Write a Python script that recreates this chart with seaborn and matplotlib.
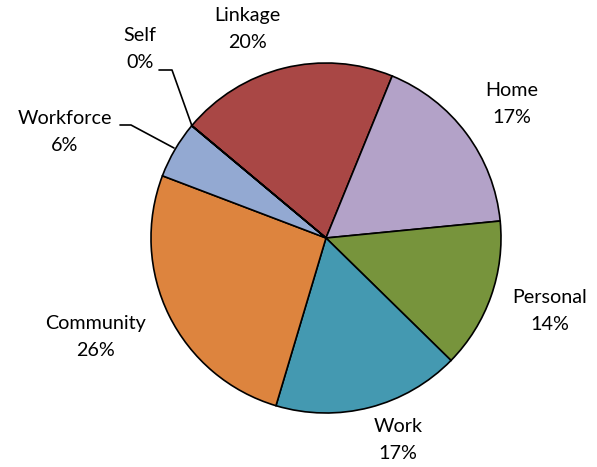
import matplotlib
matplotlib.use("Agg")
import matplotlib.pyplot as plt
import seaborn as sns

categories = ["Linkage", "Home", "Personal", "Work", "Community", "Workforce", "Self"]
values = [20.1, 17.3, 13.9, 17.3, 26.2, 5.3, 0.02]
pct_labels = ["20%", "17%", "14%", "17%", "26%", "6%", "0%"]
colors = ["#A94745", "#B3A2C8", "#77943C", "#4499B1", "#DD843E", "#93A9D2", "#4F81BD"]

sns.set_theme(style="white")
plt.rcParams["font.family"] = ["Lato", "DejaVu Sans"]

W, H, DPI = 597, 467, 100
fig = plt.figure(figsize=(W / DPI, H / DPI), dpi=DPI)
ax = fig.add_axes([0, 0, 1, 1])

cx, cy, R = 326, 238, 175  # pie centre / radius in pixels

ax.pie(values, colors=colors, startangle=140.05, counterclock=False,
       wedgeprops=dict(edgecolor="black", linewidth=1.2), radius=1.0)

ax.set_xlim(-cx / R, (W - cx) / R)
ax.set_ylim((cy - H) / R, cy / R)
ax.axis("off")


def px(x, y):
    return ((x - cx) / R, (cy - y) / R)


label_pos = {
    "Linkage": (247, 29),
    "Home": (512, 104),
    "Personal": (550, 311),
    "Work": (398, 440),
    "Community": (95, 337),
    "Workforce": (65, 132),
    "Self": (140, 49),
}
for cat, pct in zip(categories, pct_labels):
    x, y = px(*label_pos[cat])
    ax.text(x, y, f"{cat}\n{pct}", ha="center", va="center", fontsize=14.2,
            linespacing=1.7, color="black")

# leader lines
for pts in ([(159, 70), (172, 70), (192, 126)],
            [(120, 125), (131, 125), (174, 148)]):
    xs, ys = zip(*[px(*p) for p in pts])
    ax.plot(xs, ys, color="black", linewidth=1.2)

fig.savefig("out.png", dpi=DPI)
